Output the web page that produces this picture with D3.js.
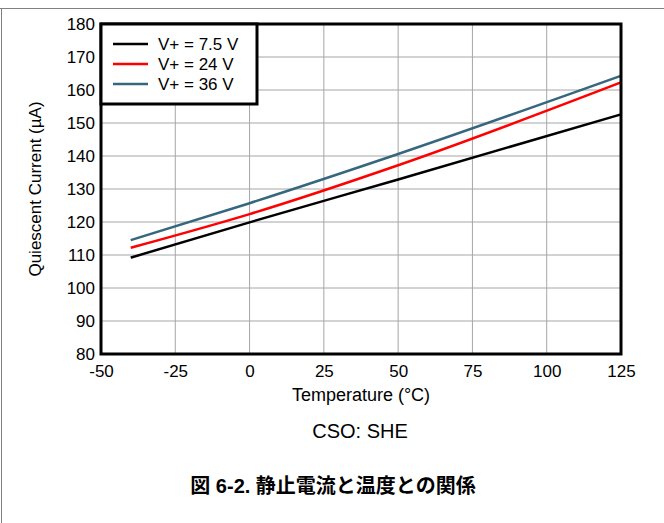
<!DOCTYPE html>
<html>
<head>
<meta charset="utf-8">
<script src="https://cdn.jsdelivr.net/npm/d3@7"></script>
<style>
  body { margin: 0; background: #fff; }
  text { font-family: "Liberation Sans", Arial, sans-serif; }
</style>
</head>
<body>
<svg id="chart"></svg>
<script>
const temps = [-40, 0, 50, 125];
const series = [
  { name: 'V+ = 7.5 V', color: '#000000', values: [109.2, 119.9, 132.9, 152.6] },
  { name: 'V+ = 24 V', color: '#ff0000', values: [112.2, 122.4, 137.2, 162.3] },
  { name: 'V+ = 36 V', color: '#36677f', values: [114.5, 125.7, 140.6, 164.3] }
];
const xTicks = [-50, -25, 0, 25, 50, 75, 100, 125];
const yTicks = [80, 90, 100, 110, 120, 130, 140, 150, 160, 170, 180];

const width = 664, height = 523;
const margin = { left: 101, right: 43, top: 24, bottom: 169 };
const w = width - margin.left - margin.right;
const h = height - margin.top - margin.bottom;

const svg = d3.select('#chart')
  .attr('width', width)
  .attr('height', height);

// outer frame (top and left edges)
svg.append('line').attr('x1', 0).attr('x2', width).attr('y1', 8.5).attr('y2', 8.5)
  .attr('stroke', '#808080').attr('stroke-width', 1);
svg.append('line').attr('x1', 1.5).attr('x2', 1.5).attr('y1', 8).attr('y2', height)
  .attr('stroke', '#808080').attr('stroke-width', 1);

const g = svg.append('g').attr('transform', `translate(${margin.left},${margin.top})`);

const x = d3.scaleLinear().domain([-50, 125]).range([0, w]);
const y = d3.scaleLinear().domain([80, 180]).range([h, 0]);

// grid
g.append('g').selectAll('line').data(xTicks).enter().append('line')
  .attr('x1', d => x(d)).attr('x2', d => x(d))
  .attr('y1', 0).attr('y2', h)
  .attr('stroke', '#a6a6a6').attr('stroke-width', 1);
g.append('g').selectAll('line').data(yTicks).enter().append('line')
  .attr('x1', 0).attr('x2', w)
  .attr('y1', d => y(d)).attr('y2', d => y(d))
  .attr('stroke', '#a6a6a6').attr('stroke-width', 1);

// series
const line = d3.line().curve(d3.curveMonotoneX)
  .x((d, i) => x(temps[i])).y(d => y(d));
g.selectAll('.series').data(series).enter().append('path')
  .attr('class', 'series')
  .attr('d', d => line(d.values))
  .attr('fill', 'none')
  .attr('stroke', d => d.color)
  .attr('stroke-width', 2.5);

// plot border
g.append('rect').attr('x', 0).attr('y', 0).attr('width', w).attr('height', h)
  .attr('fill', 'none').attr('stroke', '#000').attr('stroke-width', 3);

// axes
const xAxis = g.append('g').attr('transform', `translate(0,${h})`)
  .call(d3.axisBottom(x).tickValues(xTicks).tickFormat(d => String(d)).tickSize(0).tickPadding(11));
const yAxis = g.append('g')
  .call(d3.axisLeft(y).tickValues(yTicks).tickFormat(d => String(d)).tickSize(0).tickPadding(6));
[xAxis, yAxis].forEach(a => {
  a.select('.domain').remove();
  a.selectAll('text').attr('font-size', 17).attr('fill', '#000')
    .attr('font-family', '"Liberation Sans", Arial, sans-serif');
});

// legend
const legend = g.append('g');
legend.append('rect').attr('x', 0).attr('y', 0).attr('width', 156).attr('height', 80)
  .attr('fill', '#fff').attr('stroke', '#000').attr('stroke-width', 3);
const item = legend.selectAll('.item').data(series).enter().append('g')
  .attr('transform', (d, i) => `translate(0,${20 + i * 20})`);
item.append('line').attr('x1', 12).attr('x2', 47).attr('y1', 0).attr('y2', 0)
  .attr('stroke', d => d.color).attr('stroke-width', 2.5);
item.append('text').attr('x', 57).attr('y', 0).attr('dy', '0.36em')
  .attr('font-size', 17).text(d => d.name);

// axis titles
svg.append('text').attr('x', 361).attr('y', 401)
  .attr('text-anchor', 'middle').attr('font-size', 18).text('Temperature (°C)');
svg.append('text')
  .attr('transform', `translate(41,${margin.top + h / 2}) rotate(-90)`)
  .attr('text-anchor', 'middle').attr('font-size', 17).text('Quiescent Current (µA)');

svg.append('text').attr('x', 360).attr('y', 438)
  .attr('text-anchor', 'middle').attr('font-size', 20).text('CSO: SHE');

svg.append('text').attr('x', 333).attr('y', 493)
  .attr('text-anchor', 'middle').attr('font-size', 20).attr('font-weight', 'bold')
  .style('font-family', '"Liberation Sans", "Noto Sans CJK JP", sans-serif')
  .text('図 6-2. 静止電流と温度との関係');
</script>
</body>
</html>
